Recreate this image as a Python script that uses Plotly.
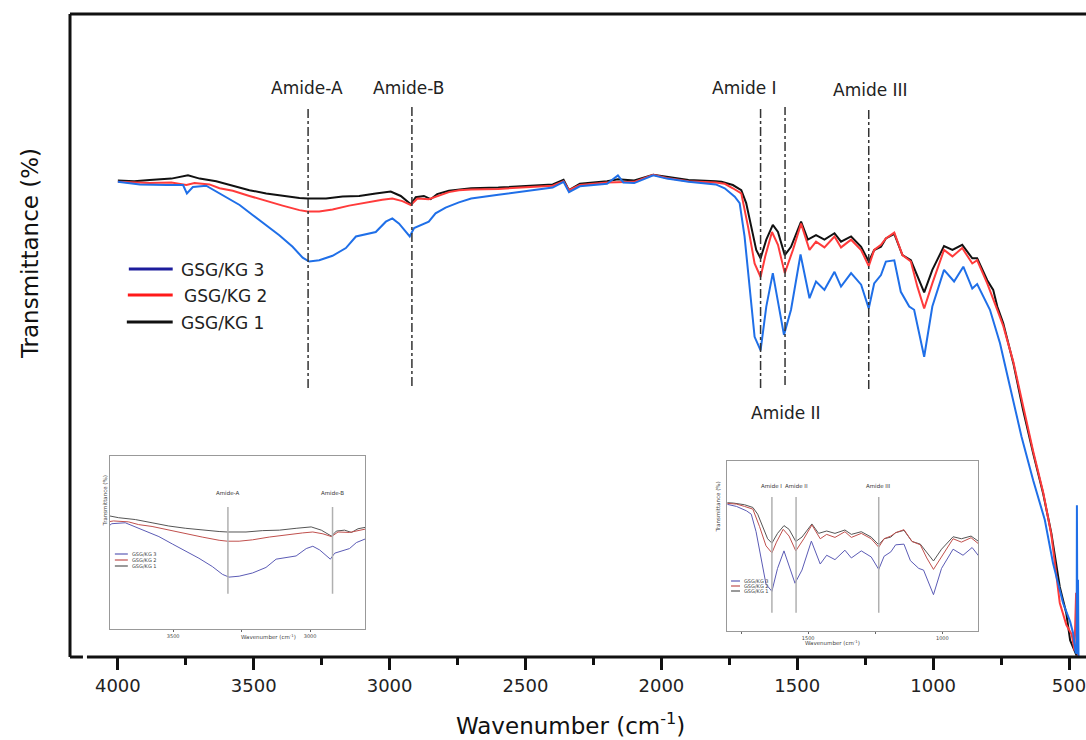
import plotly.graph_objects as go

# ---------------- data ----------------
WN_KG1 = [4000, 3940, 3883, 3803, 3742, 3699, 3638, 3577, 3516, 3454, 3394, 3332, 3302, 3234, 3173,
          3112, 3051, 2996, 2959, 2922, 2904, 2874, 2849, 2825, 2782, 2745, 2700, 2600, 2500, 2400,
          2360, 2340, 2300, 2200, 2160, 2100, 2030, 1980, 1900, 1800, 1779, 1737, 1706, 1688, 1669,
          1651, 1635, 1614, 1590, 1571, 1546, 1523, 1486, 1461, 1431, 1400, 1363, 1339, 1302, 1265,
          1237, 1217, 1192, 1174, 1143, 1113, 1082, 1058, 1033, 1003, 960, 929, 893, 856, 838,
          801, 779, 764, 742, 705, 669, 632, 595, 565, 534, 510, 496, 485, 478, 472]
T_KG1 = [74.1, 74.0, 74.2, 74.4, 74.9, 74.4, 74.0, 73.3, 72.6, 72.1, 71.7, 71.4, 71.3, 71.3, 71.6,
         71.7, 72.1, 72.4, 71.7, 70.4, 71.5, 71.7, 71.2, 72.0, 72.5, 72.7, 72.9, 73.0, 73.3, 73.5,
         74.2, 72.6, 73.6, 74.0, 74.3, 74.1, 75.0, 74.7, 74.2, 74.0, 73.9, 73.4, 72.6, 70.6, 66.9,
         63.3, 62.0, 64.9, 67.2, 66.1, 62.5, 63.8, 67.7, 64.9, 65.6, 64.9, 65.9, 64.6, 65.4, 63.8,
         61.5, 63.3, 63.8, 65.1, 65.8, 62.5, 61.7, 59.1, 56.7, 60.2, 63.9, 63.3, 64.1, 62.0, 62.0,
         58.6, 57.1, 54.5, 51.9, 45.7, 38.4, 31.7, 25.4, 19.2, 10.9, 6.8, 2.6, 1.5, 0.8, 0.2]

WN_KG2 = [4000, 3883, 3803, 3748, 3718, 3663, 3626, 3577, 3516, 3454, 3394, 3332, 3302, 3259, 3210,
          3149, 3088, 3027, 2990, 2953, 2922, 2898, 2856, 2819, 2782, 2745, 2700, 2600, 2500, 2400,
          2360, 2340, 2300, 2200, 2100, 2030, 1980, 1900, 1800, 1767, 1737, 1706, 1681, 1657, 1635,
          1618, 1593, 1571, 1546, 1516, 1486, 1455, 1431, 1400, 1363, 1339, 1302, 1265, 1237, 1217,
          1192, 1174, 1143, 1113, 1082, 1058, 1033, 1003, 960, 929, 893, 856, 838, 801, 764,
          742, 705, 669, 632, 595, 565, 534, 510, 490, 480, 474, 470, 466]
T_KG2 = [73.9, 73.7, 73.8, 73.4, 73.7, 73.5, 72.9, 72.5, 71.7, 70.9, 70.2, 69.5, 69.3, 69.3, 69.6,
         70.2, 70.7, 71.1, 71.3, 70.9, 70.3, 71.3, 71.2, 71.7, 72.3, 72.6, 72.7, 72.8, 73.1, 73.3,
         74.0, 72.6, 73.4, 73.8, 73.9, 75.0, 74.5, 74.0, 73.8, 73.6, 72.9, 72.1, 66.9, 61.2, 59.1,
         62.3, 66.1, 64.1, 59.7, 63.3, 67.4, 63.3, 64.6, 63.7, 65.4, 63.7, 64.9, 63.3, 60.8, 63.3,
         64.1, 65.1, 66.0, 62.5, 61.5, 57.6, 54.2, 58.1, 63.3, 62.3, 63.6, 61.2, 61.7, 58.1, 54.0,
         51.5, 45.9, 38.8, 32.0, 25.6, 19.0, 8.4, 5.0, 3.5, 1.0, 10.0, 1.0, 0.0]

WN_KG3 = [4000, 3919, 3821, 3760, 3746, 3724, 3675, 3638, 3601, 3552, 3503, 3454, 3406, 3357, 3320,
          3296, 3259, 3210, 3161, 3124, 3088, 3051, 3014, 2990, 2965, 2941, 2926, 2910, 2886, 2856,
          2831, 2794, 2745, 2700, 2600, 2500, 2400, 2360, 2340, 2300, 2200, 2160, 2140, 2100, 2030,
          1980, 1900, 1800, 1767, 1730, 1712, 1694, 1675, 1657, 1635, 1614, 1590, 1571, 1549, 1523,
          1488, 1455, 1431, 1400, 1363, 1339, 1302, 1265, 1237, 1217, 1192, 1174, 1143, 1119, 1088,
          1070, 1033, 1003, 960, 923, 889, 856, 838, 791, 754, 717, 675, 632, 589, 559,
          522, 496, 485, 476, 472, 471, 469, 467, 465]
T_KG3 = [73.9, 73.5, 73.4, 73.4, 72.1, 73.1, 73.3, 72.4, 71.6, 70.3, 68.7, 67.2, 65.6, 63.8, 62.1,
         61.5, 61.7, 62.4, 63.6, 65.4, 65.7, 66.1, 67.7, 68.2, 67.4, 66.1, 65.4, 66.7, 67.2, 67.7,
         69.0, 69.9, 70.7, 71.3, 71.9, 72.5, 73.0, 73.9, 72.3, 73.2, 73.6, 74.9, 73.8, 73.7, 74.9,
         74.4, 73.9, 73.5, 72.9, 71.6, 70.6, 65.4, 57.6, 49.8, 47.7, 54.5, 59.7, 55.5, 50.1, 54.0,
         62.6, 55.8, 58.4, 57.1, 59.9, 57.6, 59.7, 57.9, 54.2, 58.1, 59.4, 61.5, 61.7, 56.8, 54.5,
         54.0, 46.7, 54.5, 60.2, 58.4, 60.7, 57.3, 58.0, 54.0, 48.8, 42.0, 34.3, 27.5, 21.3, 14.6,
         8.4, 5.5, 3.7, 0.8, 0.5, 23.6, 0.5, 12.0, 0.0]

SERIES = ["GSG/KG 3", "GSG/KG 2", "GSG/KG 1"]
MAIN_COLORS = ["#1f6fe8", "#ff3b3b", "#111111"]
LEGEND_COLORS = ["#1c1c9c", "#ff1a1a", "#111111"]
INSET_COLORS = ["#5b5bb5", "#c0504d", "#555555"]

AMIDE_LABELS = ["Amide-A", "Amide-B", "Amide I", "Amide II", "Amide III"]
AMIDE_WN = [3300, 2918, 1635, 1545, 1237]

X_TICKS = [4000, 3500, 3000, 2500, 2000, 1500, 1000, 500]

FONT = "DejaVu Sans"

# ---------------- layout helpers (pixel -> paper) ----------------
L, R, T, B = 70, 1086, 14, 657
W, H = R - L, B - T


def px(x):
    return (x - L) / W


def py(y):
    return (B - y) / H


data = [(WN_KG3, T_KG3), (WN_KG2, T_KG2), (WN_KG1, T_KG1)]

fig = go.Figure()
for i in [2, 1, 0]:
    wn, tt = data[i]
    fig.add_trace(go.Scatter(x=wn, y=tt, mode="lines", name=SERIES[i],
                             line=dict(color=MAIN_COLORS[i], width=2), showlegend=False,
                             xaxis="x", yaxis="y"))
for ax in ["2", "3"]:
    for i in [2, 1, 0]:
        wn, tt = data[i]
        fig.add_trace(go.Scatter(x=wn, y=tt, mode="lines", name=SERIES[i],
                                 line=dict(color=INSET_COLORS[i], width=1), showlegend=False,
                                 xaxis="x" + ax, yaxis="y" + ax))

shapes = []
annos = []
fw = dict(color="#111111", width=3)
shapes.append(dict(type="line", xref="paper", yref="paper", x0=0, x1=1.02, y0=1, y1=1, line=fw))
shapes.append(dict(type="line", xref="paper", yref="paper", x0=0, x1=0, y0=0, y1=1, line=fw))
shapes.append(dict(type="line", xref="paper", yref="paper", x0=0, x1=px(83), y0=0, y1=0, line=fw))
shapes.append(dict(type="line", xref="paper", yref="paper", x0=px(87), x1=1.02, y0=0, y1=0, line=fw))

line_tops = [107, 107, 107, 107, 107]
line_bots = [388, 386, 388, 385, 389]
label_pos = [(308, 88), (410, 88), (746, 88), (788, 413), (873, 90)]
for k, w in enumerate(AMIDE_WN):
    shapes.append(dict(type="line", xref="x", yref="paper", x0=w, x1=w,
                       y0=py(line_bots[k]), y1=py(line_tops[k]),
                       line=dict(color="#333333", width=1.5, dash="dashdot")))
    annos.append(dict(text=AMIDE_LABELS[k], xref="paper", yref="paper",
                      x=px(label_pos[k][0]), y=py(label_pos[k][1]), showarrow=False,
                      xanchor="center", yanchor="middle",
                      font=dict(family=FONT, size=17, color="#222222")))

leg_y = [269, 295, 322]
leg_x0 = [129, 128, 127]
leg_tx = [179, 182, 179]
for i in range(3):
    shapes.append(dict(type="line", xref="paper", yref="paper", x0=px(leg_x0[i]), x1=px(173),
                       y0=py(leg_y[i]), y1=py(leg_y[i]), line=dict(color=LEGEND_COLORS[i], width=3)))
    annos.append(dict(text=SERIES[i], xref="paper", yref="paper", x=px(leg_tx[i]), y=py(leg_y[i] + 1),
                      showarrow=False, xanchor="left", yanchor="middle",
                      font=dict(family=FONT, size=17, color="#222222")))

annos.append(dict(text="Wavenumber (cm<sup>-1</sup>)", xref="paper", yref="paper", x=px(572), y=py(724),
                  showarrow=False, xanchor="center", yanchor="middle",
                  font=dict(family=FONT, size=23, color="#111111")))
annos.append(dict(text="Transmittance (%)", xref="paper", yref="paper", x=px(30), y=py(254),
                  showarrow=False, xanchor="center", yanchor="middle", textangle=-90,
                  font=dict(family=FONT, size=23, color="#111111")))

tiny = dict(family=FONT, size=5.5, color="#333333")
for k in [0, 1]:
    shapes.append(dict(type="line", xref="x2", yref="y2", x0=AMIDE_WN[k], x1=AMIDE_WN[k], y0=57.9, y1=76.7,
                       line=dict(color="#b0b0b0", width=1.5)))
    annos.append(dict(text=AMIDE_LABELS[k], xref="x2", yref="paper", x=AMIDE_WN[k], y=py(498),
                      showarrow=False, font=tiny))
for k in [2, 3, 4]:
    shapes.append(dict(type="line", xref="x3", yref="y3", x0=AMIDE_WN[k], x1=AMIDE_WN[k], y0=41.3, y1=75.7,
                       line=dict(color="#b0b0b0", width=1.5)))
    annos.append(dict(text=AMIDE_LABELS[k], xref="x3", yref="paper", x=AMIDE_WN[k], y=py(491),
                      showarrow=False, font=tiny))
for (lx0, lx1, ys) in [(115, 128, [554, 560, 566]), (733, 742, [581, 586, 591])]:
    for i in range(3):
        shapes.append(dict(type="line", xref="paper", yref="paper", x0=px(lx0), x1=px(lx1),
                           y0=py(ys[i]), y1=py(ys[i]), line=dict(color=INSET_COLORS[i], width=1.2)))
        annos.append(dict(text=SERIES[i], xref="paper", yref="paper", x=px(lx1 + 2), y=py(ys[i]),
                          showarrow=False, xanchor="left", yanchor="middle",
                          font=dict(family=FONT, size=5, color="#444444")))
annos.append(dict(text="Wavenumber (cm<sup>-1</sup>)", xref="paper", yref="paper", x=px(240), y=py(642),
                  showarrow=False, font=dict(family=FONT, size=5.5, color="#444444")))
annos.append(dict(text="Wavenumber (cm<sup>-1</sup>)", xref="paper", yref="paper", x=px(864), y=py(648),
                  showarrow=False, font=dict(family=FONT, size=5.5, color="#444444")))
annos.append(dict(text="Transmittance (%)", xref="paper", yref="paper", x=px(719), y=py(535),
                  showarrow=False, textangle=-90, font=dict(family=FONT, size=5.5, color="#444444")))
annos.append(dict(text="Transmittance (%)", xref="paper", yref="paper", x=px(100), y=py(528),
                  showarrow=False, textangle=-90, font=dict(family=FONT, size=5.5, color="#444444")))

inset_x = dict(showline=True, mirror=True, linecolor="#999999", linewidth=1, ticks="outside",
               ticklen=2, tickwidth=1, tickcolor="#666666", showgrid=False, zeroline=False,
               tickfont=dict(family=FONT, size=5, color="#444444"), dtick=500,
               minor=dict(dtick=250, ticks="outside", ticklen=2, tickcolor="#666666"))
inset_y = dict(showline=True, mirror=True, linecolor="#999999", linewidth=1, ticks="",
               showticklabels=False, showgrid=False, zeroline=False)

fig.update_layout(
    width=1086, height=740,
    margin=dict(l=L, r=0, t=T, b=740 - B),
    paper_bgcolor="white", plot_bgcolor="white",
    font=dict(family=FONT, color="#222222"),
    xaxis=dict(range=[4176.1, 448.6], tickvals=X_TICKS, ticks="outside", ticklen=12, tickwidth=3,
               tickcolor="#111111", showline=False, showgrid=False, zeroline=False,
               ticklabeloverflow="allow",
               tickfont=dict(family=FONT, size=18, color="#222222"),
               minor=dict(tickvals=[3750, 3250, 2750, 2250, 1750, 1250, 750], ticks="outside",
                          ticklen=7, tickwidth=3, tickcolor="#111111"),
               domain=[0, 1]),
    yaxis=dict(range=[0, 100], showticklabels=False, ticks="", showgrid=False, zeroline=False,
               showline=False, domain=[0, 1]),
    xaxis2=dict(inset_x, range=[3731, 2799], domain=[px(110), px(366)], anchor="y2"),
    yaxis2=dict(inset_y, range=[50.3, 87.8], domain=[py(628.7), py(456)], anchor="x2"),
    xaxis3=dict(inset_x, range=[1801, 866], domain=[px(729.3), px(981)], anchor="y3"),
    yaxis3=dict(inset_y, range=[36.0, 86.3], domain=[py(630.7), py(461.3)], anchor="x3"),
    shapes=shapes, annotations=annos,
)

fig.write_html("out.html", config={"displayModeBar": False},
               post_script="document.body.style.margin='0';document.body.style.overflow='hidden';")
